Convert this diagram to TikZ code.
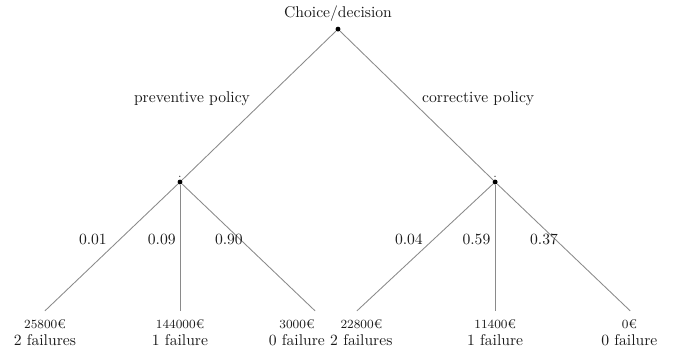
\documentclass[tikz,border=0pt]{standalone}
\usepackage{fontspec}
\usepackage{tikz}
\usetikzlibrary{positioning}
\definecolor{linegray}{HTML}{8A8A8A}
\definecolor{darktext}{HTML}{1A1A1A}

\begin{document}
\begin{tikzpicture}[
  dot/.style={circle,fill=black,inner sep=0pt,minimum size=1.1mm},
  branch/.style={draw=linegray,line width=0.55pt},
  every node/.append style={text=darktext}]
\useasboundingbox (0,0) rectangle (15.21,7.965);
% decision and chance nodes
\node[dot] (root) at (7.605,7.31) {};
\node (rootlbl) at (7.605,7.66) {Choice/decision};
\node[dot,label={[inner sep=0pt,yshift=1pt]above:{\scriptsize .}}] (prev) at (4.05,3.87) {};
\node[dot,label={[inner sep=0pt,yshift=1pt]above:{\scriptsize .}}] (corr) at (11.14,3.87) {};
% leaves (end of branch, then cost and outcome below)
\foreach \n/\x/\tx/\cost/\nb in {la/1.01/1.01/25800/2 failures, lb/4.05/4.05/144000/1 failure, lc/7.09/6.68/3000/0 failure,
                                 ra/8.03/8.13/22800/2 failures, rb/11.14/11.14/11400/1 failure, rc/14.18/14.16/0/0 failure} {
  \coordinate (\n) at (\x,0.97);
  \node[font=\footnotesize] (\n cost) at (\tx,0.66) {\cost€};
  \node (\n fail) at (\tx,0.32) {\nb};
}
% connectors
\draw[branch] (root) -- (prev);
\draw[branch] (root) -- (corr);
\foreach \n in {la,lb,lc} \draw[branch] (prev) -- (\n);
\foreach \n in {ra,rb,rc} \draw[branch] (corr) -- (\n);
% branch labels
\node (prevlbl) at (4.32,5.74) {preventive policy};
\node (corrlbl) at (10.76,5.74) {corrective policy};
\node (pa) at (2.09,2.57) {0.01};
\node (pb) at (3.64,2.57) {0.09};
\node (pc) at (5.15,2.57) {0.90};
\node (qa) at (9.20,2.57) {0.04};
\node (qb) at (10.72,2.57) {0.59};
\node (qc) at (12.24,2.57) {0.37};
\end{tikzpicture}
\end{document}
